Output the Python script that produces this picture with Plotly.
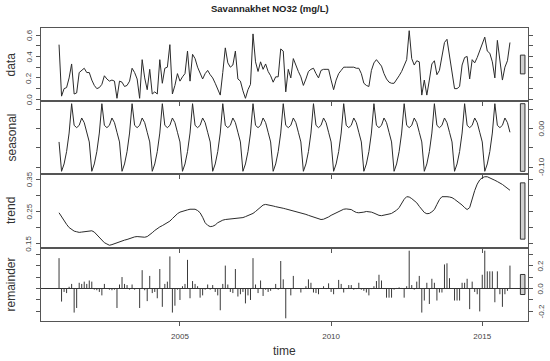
import plotly.graph_objects as go

# ---------------- data (monthly, Jan 2001 - Dec 2015) ----------------
start_year = 2001
n_years = 15

data_values = [
    0.51, 0.03, 0.10, 0.11, 0.20, 0.33, 0.05, 0.06, 0.25, 0.27, 0.29, 0.25,
    0.25, 0.18, 0.13, 0.10, 0.11, 0.14, 0.22, 0.19, 0.17, 0.18, 0.17, 0.01,
    0.17, 0.16, 0.12, 0.13, 0.17, 0.29, 0.25, 0.19, 0.01, 0.37, 0.20, 0.09,
    0.28, 0.05, 0.07, 0.05, 0.37, 0.15, 0.29, 0.30, 0.51, 0.05, 0.13, 0.24,
    0.17, 0.21, 0.24, 0.45, 0.17, 0.42, 0.38, 0.30, 0.25, 0.19, 0.24, 0.27,
    0.23, 0.20, 0.15, 0.10, 0.04, 0.25, 0.48, 0.34, 0.30, 0.32, 0.45, 0.19,
    0.17, 0.08, 0.01, 0.09, 0.14, 0.61, 0.35, 0.26, 0.35, 0.28, 0.33, 0.26,
    0.22, 0.16, 0.21, 0.21, 0.47, 0.45, 0.07, 0.28, 0.20, 0.38, 0.31, 0.26,
    0.21, 0.13, 0.19, 0.26, 0.28, 0.29, 0.24, 0.20, 0.27, 0.28, 0.28, 0.28,
    0.18, 0.09, 0.18, 0.24, 0.27, 0.30, 0.30, 0.30, 0.30, 0.30, 0.29, 0.29,
    0.24, 0.15, 0.13, 0.12, 0.27, 0.34, 0.37, 0.34, 0.31, 0.24, 0.19, 0.16,
    0.15, 0.15, 0.18, 0.22, 0.26, 0.32, 0.37, 0.64, 0.38, 0.32, 0.36, 0.35,
    0.04, 0.18, 0.04, 0.18, 0.33, 0.36, 0.23, 0.27, 0.40, 0.53, 0.56, 0.42,
    0.28, 0.10, 0.10, 0.12, 0.32, 0.39, 0.40, 0.19, 0.37, 0.34, 0.39, 0.45,
    0.52, 0.58, 0.45, 0.43, 0.35, 0.20, 0.55, 0.38, 0.18, 0.30, 0.36, 0.53,
]

seasonal_values = [
    -0.035, -0.111, -0.092, -0.060, -0.012, 0.064, 0.008, 0.002, 0.008, 0.027, 0.015, -0.010,
    -0.035, -0.111, -0.092, -0.060, -0.012, 0.064, 0.008, 0.002, 0.008, 0.027, 0.015, -0.010,
    -0.035, -0.111, -0.092, -0.060, -0.012, 0.064, 0.008, 0.002, 0.008, 0.027, 0.015, -0.010,
    -0.035, -0.111, -0.092, -0.060, -0.012, 0.064, 0.008, 0.002, 0.008, 0.027, 0.015, -0.010,
    -0.035, -0.111, -0.092, -0.060, -0.012, 0.064, 0.008, 0.002, 0.008, 0.027, 0.015, -0.010,
    -0.035, -0.111, -0.092, -0.060, -0.012, 0.064, 0.008, 0.002, 0.008, 0.027, 0.015, -0.010,
    -0.035, -0.111, -0.092, -0.060, -0.012, 0.064, 0.008, 0.002, 0.008, 0.027, 0.015, -0.010,
    -0.035, -0.111, -0.092, -0.060, -0.012, 0.064, 0.008, 0.002, 0.008, 0.027, 0.015, -0.010,
    -0.035, -0.111, -0.092, -0.060, -0.012, 0.064, 0.008, 0.002, 0.008, 0.027, 0.015, -0.010,
    -0.035, -0.111, -0.092, -0.060, -0.012, 0.064, 0.008, 0.002, 0.008, 0.027, 0.015, -0.010,
    -0.035, -0.111, -0.092, -0.060, -0.012, 0.064, 0.008, 0.002, 0.008, 0.027, 0.015, -0.010,
    -0.035, -0.111, -0.092, -0.060, -0.012, 0.064, 0.008, 0.002, 0.008, 0.027, 0.015, -0.010,
    -0.035, -0.111, -0.092, -0.060, -0.012, 0.064, 0.008, 0.002, 0.008, 0.027, 0.015, -0.010,
    -0.035, -0.111, -0.092, -0.060, -0.012, 0.064, 0.008, 0.002, 0.008, 0.027, 0.015, -0.010,
    -0.035, -0.111, -0.092, -0.060, -0.012, 0.064, 0.008, 0.002, 0.008, 0.027, 0.015, -0.010,
]

trend_values = [
    0.246, 0.233, 0.220, 0.210, 0.200, 0.193, 0.189, 0.187, 0.185, 0.186, 0.187, 0.188,
    0.189, 0.190, 0.186, 0.177, 0.168, 0.160, 0.153, 0.149, 0.145, 0.147, 0.150, 0.153,
    0.157, 0.159, 0.161, 0.163, 0.166, 0.169, 0.171, 0.172, 0.171, 0.170, 0.170, 0.172,
    0.177, 0.184, 0.191, 0.197, 0.202, 0.206, 0.211, 0.216, 0.220, 0.228, 0.236, 0.243,
    0.248, 0.251, 0.253, 0.255, 0.257, 0.258, 0.257, 0.253, 0.246, 0.232, 0.215, 0.207,
    0.203, 0.204, 0.208, 0.215, 0.220, 0.223, 0.225, 0.226, 0.227, 0.228, 0.228, 0.229,
    0.229, 0.231, 0.234, 0.237, 0.240, 0.244, 0.250, 0.257, 0.264, 0.270, 0.272, 0.271,
    0.269, 0.267, 0.265, 0.264, 0.262, 0.260, 0.258, 0.256, 0.254, 0.252, 0.250, 0.248,
    0.247, 0.244, 0.241, 0.238, 0.235, 0.232, 0.229, 0.226, 0.225, 0.226, 0.229, 0.233,
    0.238, 0.242, 0.246, 0.250, 0.254, 0.257, 0.258, 0.258, 0.256, 0.251, 0.247, 0.246,
    0.246, 0.248, 0.250, 0.250, 0.248, 0.245, 0.241, 0.238, 0.237, 0.238, 0.240, 0.242,
    0.244, 0.248, 0.254, 0.262, 0.275, 0.288, 0.296, 0.295, 0.290, 0.284, 0.277, 0.266,
    0.255, 0.247, 0.243, 0.244, 0.249, 0.256, 0.272, 0.287, 0.296, 0.297, 0.296, 0.295,
    0.293, 0.288, 0.282, 0.277, 0.270, 0.262, 0.256, 0.262, 0.290, 0.315, 0.335, 0.348,
    0.355, 0.358, 0.358, 0.355, 0.351, 0.347, 0.343, 0.339, 0.334, 0.328, 0.322, 0.316,
]

remainder_values = [
    0.265, -0.114, -0.030, -0.040, 0.015, 0.040, -0.210, -0.170, 0.050, 0.040, 0.060, 0.040,
    0.070, 0.060, -0.010, -0.015, -0.030, -0.060, 0.040, 0.000, -0.010, -0.015, -0.010, -0.170,
    0.035, 0.100, 0.040, 0.030, -0.010, 0.035, -0.010, 0.000, -0.170, 0.160, -0.015, -0.110,
    0.110, -0.040, -0.030, -0.085, 0.170, -0.160, 0.040, 0.060, 0.280, -0.210, -0.150, -0.010,
    -0.100, 0.020, 0.040, 0.250, -0.085, 0.065, 0.040, 0.020, -0.080, -0.060, -0.010, 0.035,
    -0.010, 0.030, -0.030, -0.060, -0.190, 0.040, 0.200, 0.035, -0.030, -0.040, 0.170, -0.070,
    -0.050, -0.030, -0.130, -0.060, -0.100, 0.265, 0.035, -0.040, 0.070, -0.065, -0.010, -0.030,
    -0.020, -0.005, 0.040, -0.010, 0.240, 0.080, -0.260, -0.005, -0.060, 0.110, -0.005, 0.000,
    -0.035, -0.005, 0.020, 0.080, 0.050, -0.035, -0.040, -0.050, 0.000, 0.020, -0.005, 0.045,
    -0.030, -0.050, -0.005, 0.075, 0.040, -0.035, -0.005, 0.030, 0.030, -0.010, -0.005, 0.050,
    -0.010, -0.020, -0.035, -0.060, -0.005, 0.020, 0.065, 0.120, 0.070, -0.005, -0.080, -0.080,
    -0.080, -0.010, 0.005, 0.010, 0.005, -0.080, 0.020, 0.330, 0.030, -0.010, 0.060, 0.110,
    -0.210, -0.105, 0.050, -0.135, 0.085, 0.050, -0.105, -0.035, -0.035, 0.210, 0.220, 0.090,
    0.000, -0.105, -0.105, -0.105, 0.050, 0.050, 0.085, -0.180, 0.060, -0.030, -0.050, -0.200,
    0.120, 0.330, 0.150, 0.150, 0.150, -0.120, 0.150, -0.050, -0.160, -0.050, -0.020, 0.200,
]

panel_labels = ["data", "seasonal", "trend", "remainder"]
x_tick_values = [2005, 2010, 2015]
y_tick_values = [
    [0.0, 0.1, 0.2, 0.3, 0.4, 0.5, 0.6],
    [-0.10, -0.05, 0.00, 0.05],
    [0.15, 0.20, 0.25, 0.30, 0.35],
    [-0.2, -0.1, 0.0, 0.1, 0.2, 0.3],
]
y_tick_texts = [
    ["0.0", "", "0.2", "", "0.4", "", "0.6"],
    ["-0.10", "", "0.00", ""],
    ["0.15", "", "0.25", "", "0.35"],
    ["-0.2", "", "0.0", "", "0.2", ""],
]
title_text = "Savannakhet NO32 (mg/L)"
x_title = "time"

# ---------------- build ----------------
time = [start_year + k / 12 for k in range(12 * n_years)]
series = [data_values, seasonal_values, trend_values, remainder_values]

W, H = 550, 361
x_left_px, x_right_px = 41, 528
panel_edges_px = [28, 101, 174, 248, 321]

def ydom(i):
    top, bot = panel_edges_px[i], panel_edges_px[i + 1]
    return [1 - bot / H, 1 - top / H]

t0, t1 = time[0], time[-1]
span = t1 - t0
x_range = [t0 - 0.04 * span, t1 + 0.04 * span]

LINE = "#2b2b2b"
FRAME = "#555555"
FONT = "Liberation Sans, Arial, sans-serif"
TICKFONT = dict(family=FONT, size=8, color="#444444")

fig = go.Figure()

for i, vals in enumerate(series):
    xa = "x" if i == 0 else f"x{i+1}"
    ya = "y" if i == 0 else f"y{i+1}"
    if i < 3:
        fig.add_trace(go.Scatter(x=time, y=vals, mode="lines",
                                 line=dict(color=LINE, width=1),
                                 xaxis=xa, yaxis=ya, showlegend=False,
                                 hoverinfo="skip"))
    else:
        xs, ys = [], []
        for t, v in zip(time, vals):
            xs += [t, t, None]
            ys += [0, v, None]
        fig.add_trace(go.Scatter(x=xs, y=ys, mode="lines",
                                 line=dict(color="#3a3a3a", width=1),
                                 xaxis=xa, yaxis=ya, showlegend=False,
                                 hoverinfo="skip"))

# ranges (R style: 4 % expansion) and range bars
ranges = [(min(v), max(v)) for v in series]
bar_h = min(hi - lo for lo, hi in ranges)
dx = (x_range[1] - x_range[0]) / 64

layout = dict(
    width=W, height=H,
    margin=dict(l=0, r=0, t=0, b=0),
    paper_bgcolor="white", plot_bgcolor="white",
    showlegend=False,
)

shapes = []
annotations = []
for i in range(4):
    xkey = "xaxis" if i == 0 else f"xaxis{i+1}"
    ykey = "yaxis" if i == 0 else f"yaxis{i+1}"
    xa = "x" if i == 0 else f"x{i+1}"
    ya = "y" if i == 0 else f"y{i+1}"
    lo, hi = ranges[i]
    r = hi - lo
    layout[xkey] = dict(
        domain=[x_left_px / W, x_right_px / W], range=x_range, anchor=ya,
        showline=True, mirror=True, linecolor=FRAME, linewidth=1,
        showgrid=False, zeroline=False,
        ticks="outside", ticklen=4, tickcolor=FRAME, tickwidth=1,
        tickvals=x_tick_values, ticktext=[str(v) for v in x_tick_values],
        showticklabels=(i == 3), tickfont=TICKFONT, ticklabelstandoff=3,
    )
    if i > 0:
        layout[xkey]["matches"] = "x"
    right = (i % 2 == 1)
    layout[ykey] = dict(
        domain=ydom(i), range=[lo - 0.04 * r, hi + 0.04 * r], anchor=xa,
        showline=True, mirror="ticks", linecolor=FRAME, linewidth=1,
        showgrid=False, zeroline=False,
        ticks="outside", ticklen=4, tickcolor=FRAME, tickwidth=1,
        tickvals=y_tick_values[i],
        ticktext=[""] * len(y_tick_values[i]),
    )
    mid = (lo + hi) / 2
    shapes.append(dict(type="rect", xref=xa, yref=ya,
                       x0=x_range[1] - dx, x1=x_range[1] - 0.4 * dx,
                       y0=mid - bar_h / 2, y1=mid + bar_h / 2,
                       fillcolor="#d0d0d0", line=dict(color="#333333", width=1),
                       layer="above"))
    d = ydom(i)
    annotations.append(dict(text=panel_labels[i], xref="paper", yref="paper",
                            x=11 / W, y=(d[0] + d[1]) / 2, showarrow=False,
                            textangle=-90, xanchor="center", yanchor="middle",
                            font=dict(family=FONT, size=12, color="#333333")))
    # rotated y tick labels, placed at the tick values on the labelled side
    label_x = (29 if not right else 541) / W
    for v, txt in zip(y_tick_values[i], y_tick_texts[i]):
        if txt:
            annotations.append(dict(text=txt, xref="paper", yref=ya, x=label_x, y=v,
                                    showarrow=False, textangle=-90,
                                    xanchor="center", yanchor="middle",
                                    font=TICKFONT))

# horizontal zero line in the remainder panel
shapes.append(dict(type="line", xref="x4 domain", yref="y4", x0=0, x1=1, y0=0, y1=0,
                   line=dict(color="#333333", width=1)))

annotations.append(dict(text="<b>" + title_text + "</b>", xref="paper", yref="paper",
                        x=270 / W, y=1 - 9 / H, showarrow=False,
                        xanchor="center", yanchor="middle",
                        font=dict(family=FONT, size=9.5, color="#222222")))
annotations.append(dict(text=x_title, xref="paper", yref="paper",
                        x=284 / W, y=1 - 351 / H, showarrow=False,
                        xanchor="center", yanchor="middle",
                        font=dict(family=FONT, size=12, color="#333333")))

layout["shapes"] = shapes
layout["annotations"] = annotations
fig.update_layout(**layout)

fig.write_html("out.html",
               config={"displayModeBar": False, "staticPlot": True},
               post_script="document.body.style.margin='0px';document.body.style.padding='0px';")
